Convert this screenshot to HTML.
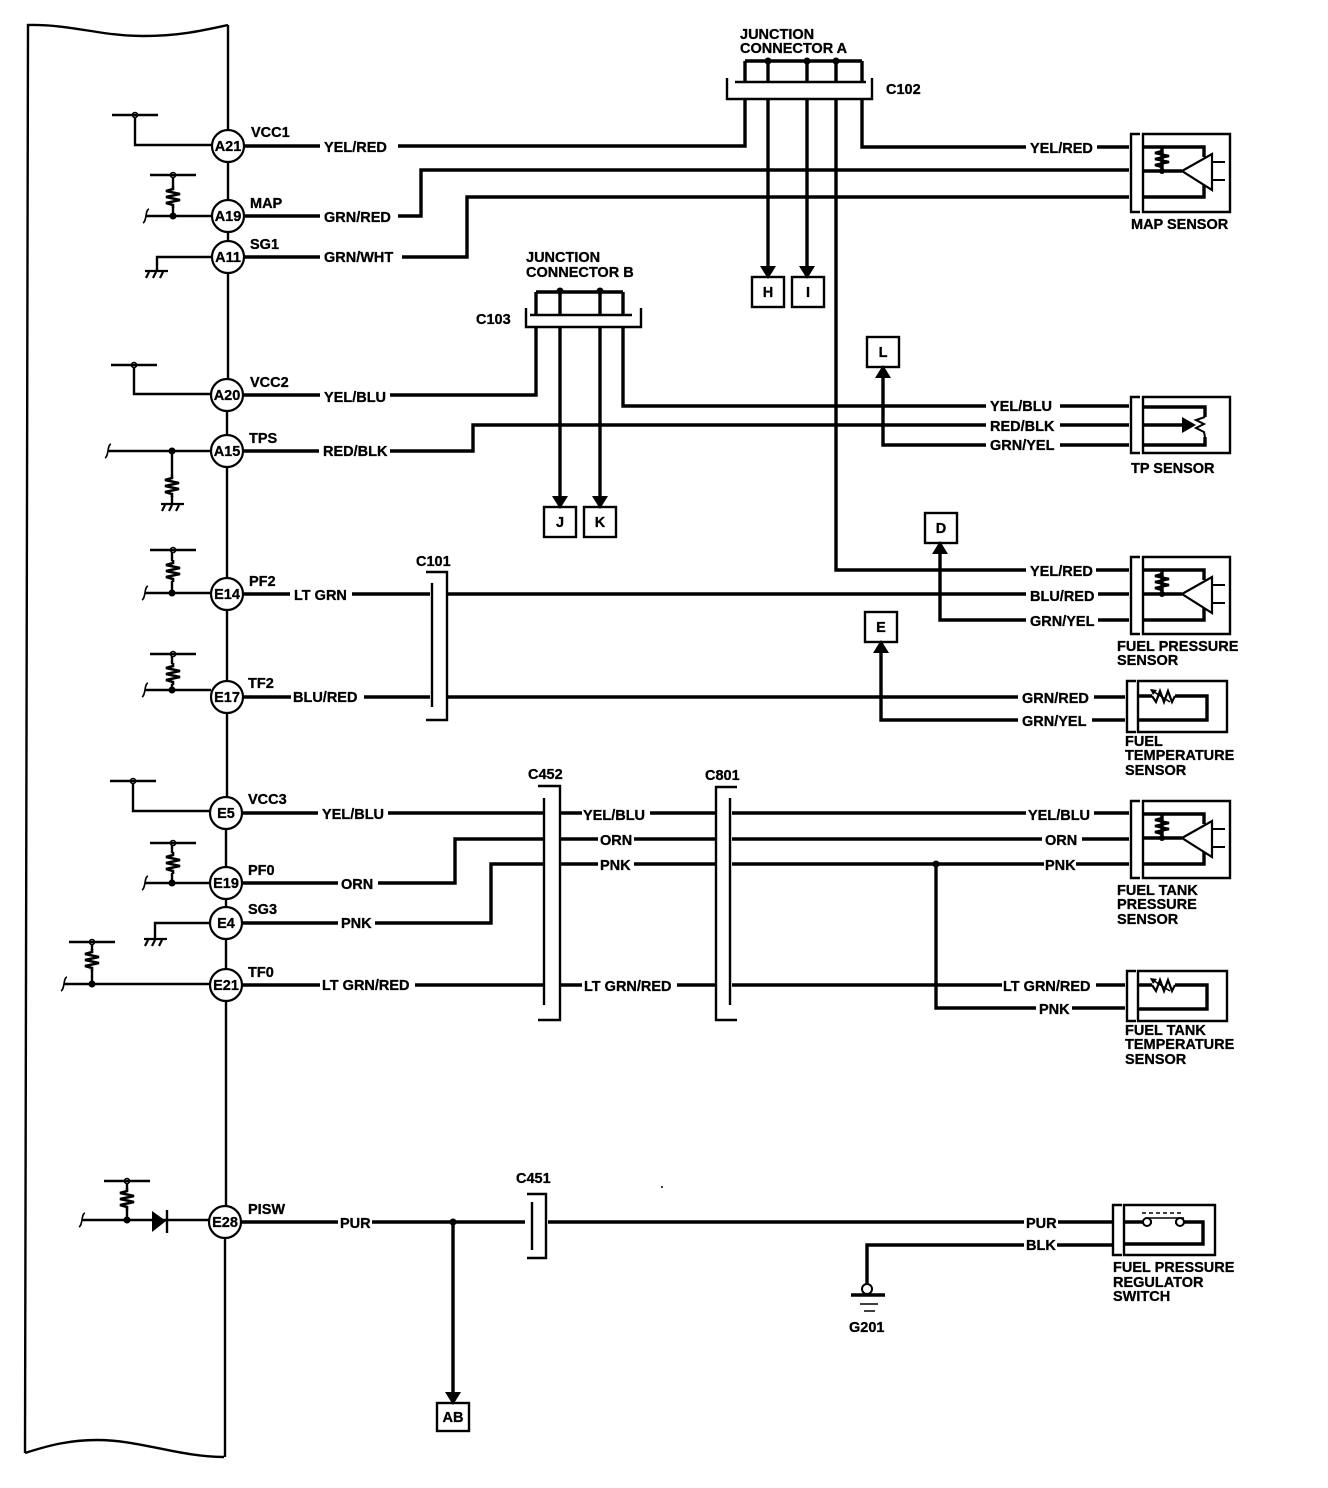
<!DOCTYPE html>
<html><head><meta charset="utf-8"><style>
html,body{margin:0;padding:0;background:#fff}
svg{display:block}
text{font-family:"Liberation Sans",sans-serif;font-weight:bold;font-size:14.5px;fill:#000;stroke:#000;stroke-width:.3}
.w{fill:none;stroke:#000;stroke-width:3.4}
.t{fill:none;stroke:#000;stroke-width:2.4}
.c{fill:#fff;stroke:#000;stroke-width:2.2}
.p{text-anchor:middle}
</style></head><body>
<svg width="1328" height="1488" viewBox="0 0 1328 1488" xmlns="http://www.w3.org/2000/svg">
<defs>
<g id="r"><path d="M0 -11V-8L-7 -6L7 -3L-7 0L7 3L-7 6L0 8V11" fill="none" stroke="#000" stroke-width="2.6"/></g>
<g id="f"><path d="M3 -7C-1 -6 1 5 -3 7" fill="none" stroke="#000" stroke-width="1.6"/></g>
<g id="g"><path d="M-11 0H12M-7 1L-10 7M0 1L-3 7M7 1L4 7" fill="none" stroke="#000" stroke-width="2.2"/></g>
<g id="a"><path d="M-8 -11H8L0 2Z" fill="#000"/></g>
<g id="u"><path d="M-8 11H8L0 -2Z" fill="#000"/></g>
<g id="o"><circle r="2.5" fill="#fff" stroke="#000" stroke-width="1.6"/></g>
<g id="d"><circle r="3.5" fill="#000"/></g>
<g id="pu"><use href="#o"/><path d="M-23 0H23" fill="none" stroke="#000" stroke-width="2.6"/></g>
<g id="amp">
<path d="M0 0H62V10M20 0V24M0 24H40M0 50H62V38" fill="none" stroke="#000" stroke-width="3.4"/>
<path d="M40 24L70 7V43Z" fill="#fff" stroke="#000" stroke-width="2.2"/>
<path d="M70 15H83M70 33H83" fill="none" stroke="#000" stroke-width="2"/>
<use href="#r" x="20" y="12"/><circle cx="20" cy="24" r="3"/>
</g>
<g id="therm">
<path d="M0 0H14M37 0H69V24H0" fill="none" stroke="#000" stroke-width="3.4"/>
<path d="M14 0L18 6L22 -5L26 6L30 -5L34 6L37 0" fill="none" stroke="#000" stroke-width="2.2"/>
<path d="M13 -6L32 6" fill="none" stroke="#000" stroke-width="1.6"/>
<path d="M12 -7L19 -6L15 -1Z" fill="#000"/>
</g>
</defs>

<!-- ECM body -->
<path d="M25 1453L28 25C70 24 100 36 143 36C180 36 205 30 228 25" fill="none" stroke="#000" stroke-width="2.4"/>
<path d="M25 1453C50 1445 70 1440 97 1440C140 1440 180 1457 224 1457" fill="none" stroke="#000" stroke-width="2.4"/>
<path d="M228 25V130M228 162V200M228 232V241M228 273V379M227 411V435M227 467V578M227 610V681M227 713V797M226 829V867M226 899V907M226 939V969M226 1001V1206M225 1238V1457" class="t"/>

<!-- pin circles -->
<g class="c">
<circle cx="228" cy="146" r="16"/><circle cx="228" cy="216" r="16"/><circle cx="228" cy="257" r="16"/>
<circle cx="227" cy="395" r="16"/><circle cx="227" cy="451" r="16"/><circle cx="227" cy="594" r="16"/>
<circle cx="227" cy="697" r="16"/><circle cx="226" cy="813" r="16"/><circle cx="226" cy="883" r="16"/>
<circle cx="226" cy="923" r="16"/><circle cx="226" cy="985" r="16"/><circle cx="225" cy="1222" r="16"/>
</g>
<g class="p">
<text x="228" y="151">A21</text><text x="228" y="221">A19</text><text x="228" y="262">A11</text>
<text x="227" y="400">A20</text><text x="227" y="456">A15</text><text x="227" y="599">E14</text>
<text x="227" y="702">E17</text><text x="226" y="818">E5</text><text x="226" y="888">E19</text>
<text x="226" y="928">E4</text><text x="226" y="990">E21</text><text x="225" y="1227">E28</text>
</g>

<!-- left side circuits -->
<g class="t">
<path d="M135 115V145H212"/><path d="M173 175V216M146 216H212"/><path d="M212 257H157V270"/>
<path d="M134 365V394H211"/><path d="M108 451H211M172 451V504"/>
<path d="M172 550V593M145 593H211"/><path d="M172 654V690M145 690H211"/>
<path d="M133 781V811H210"/><path d="M172 843V883M145 883H210"/><path d="M210 923H155V938"/>
<path d="M92 942V984M64 984H210"/><path d="M127 1181V1220M82 1220H209"/>
</g>
<use href="#pu" x="135" y="115"/><use href="#pu" x="173" y="175"/><use href="#pu" x="134" y="365"/>
<use href="#pu" x="173" y="550"/><use href="#pu" x="173" y="654"/><use href="#pu" x="133" y="781"/>
<use href="#pu" x="173" y="843"/><use href="#pu" x="92" y="942"/><use href="#pu" x="127" y="1181"/>
<g fill="#fff">
<rect x="165" y="187" width="16" height="20"/><rect x="164" y="476" width="16" height="20"/><rect x="165" y="561" width="16" height="20"/>
<rect x="165" y="664" width="16" height="20"/><rect x="165" y="853" width="16" height="20"/><rect x="84" y="950" width="16" height="20"/><rect x="119" y="1189" width="16" height="20"/>
</g>
<use href="#r" x="173" y="197"/><use href="#r" x="172" y="486"/><use href="#r" x="173" y="571"/>
<use href="#r" x="173" y="674"/><use href="#r" x="173" y="863"/><use href="#r" x="92" y="960"/><use href="#r" x="127" y="1199"/>
<use href="#d" x="173" y="216"/><use href="#d" x="172" y="451"/><use href="#d" x="172" y="593"/><use href="#d" x="172" y="690"/>
<use href="#d" x="172" y="883"/><use href="#d" x="92" y="984"/><use href="#d" x="127" y="1220"/>
<use href="#f" x="146" y="216"/><use href="#f" x="108" y="451"/><use href="#f" x="145" y="593"/><use href="#f" x="145" y="690"/>
<use href="#f" x="145" y="883"/><use href="#f" x="64" y="984"/><use href="#f" x="82" y="1220"/>
<use href="#g" x="156" y="271"/><use href="#g" x="172" y="504"/><use href="#g" x="155" y="939"/>
<path d="M152 1211L166 1221L152 1232Z" fill="#000"/><path d="M167 1210V1233" class="t"/>

<!-- pin names -->
<text x="251" y="137">VCC1</text><text x="250" y="208">MAP</text><text x="250" y="249">SG1</text>
<text x="250" y="387">VCC2</text><text x="249" y="443">TPS</text><text x="249" y="586">PF2</text>
<text x="248" y="688">TF2</text><text x="248" y="804">VCC3</text><text x="248" y="875">PF0</text>
<text x="248" y="914">SG3</text><text x="248" y="977">TF0</text><text x="248" y="1214">PISW</text>

<!-- main wires -->
<g class="w">
<path d="M244 146H320M398 146H745V99"/>
<path d="M244 216H320M398 216H421V170H1129"/>
<path d="M244 257H320M402 257H467V197H1129"/>
<path d="M244 395H320M390 395H536V327"/>
<path d="M244 451H319M390 451H473V425H986M1060 425H1129"/>
<path d="M862 99V147H1026M1097 147H1129"/>
<path d="M768 99V266M807 99V266M836 99V570H1026M1096 570H1129"/>
<path d="M745 61V82M768 61V82M807 61V82M836 61V82M862 61V82M745 61H862"/>
<path d="M536 292V315M560 292V315M600 292V315M623 292V315M536 292H623"/>
<path d="M560 327V496M600 327V496M623 327V406H986M1060 406H1129"/>
<path d="M883 376V445H986M1060 445H1129"/>
<path d="M244 594H290M352 594H430M448 594H1026M1098 594H1129"/>
<path d="M940 554V620H1026M1098 620H1129"/>
<path d="M244 697H291M364 697H430M448 697H1018M1094 697H1125"/>
<path d="M881 653V720H1018M1092 720H1125"/>
<path d="M242 813H318M388 813H544M560 813H582M650 813H716M732 813H1026M1094 813H1129"/>
<path d="M242 883H338M378 883H455V839H544M560 839H598M634 839H716M732 839H1042M1082 839H1129"/>
<path d="M242 923H338M375 923H491V864H544M560 864H598M634 864H716M732 864H1044M1076 864H1129"/>
<path d="M242 985H320M415 985H544M560 985H582M677 985H716M732 985H1002M1096 985H1125"/>
<path d="M936 864V1008H1036M1072 1008H1125"/>
<path d="M241 1222H338M372 1222H525M548 1222H1024M1058 1222H1112"/>
<path d="M453 1222V1392"/>
<path d="M867 1284V1245H1024M1057 1245H1112"/>
</g>
<use href="#d" x="768" y="61"/><use href="#d" x="807" y="61"/><use href="#d" x="836" y="61"/>
<use href="#d" x="560" y="291"/><use href="#d" x="600" y="291"/><use href="#d" x="936" y="864"/><use href="#d" x="453" y="1222"/>
<use href="#a" x="768" y="277"/><use href="#a" x="807" y="277"/><use href="#a" x="560" y="507"/><use href="#a" x="600" y="507"/><use href="#a" x="453" y="1403"/>
<use href="#u" x="883" y="367"/><use href="#u" x="940" y="543"/><use href="#u" x="881" y="642"/>

<!-- wire labels -->
<text x="324" y="152">YEL/RED</text><text x="324" y="222">GRN/RED</text><text x="324" y="262">GRN/WHT</text>
<text x="324" y="402">YEL/BLU</text><text x="323" y="456">RED/BLK</text><text x="294" y="600">LT GRN</text>
<text x="293" y="702">BLU/RED</text><text x="322" y="819">YEL/BLU</text><text x="341" y="889">ORN</text>
<text x="341" y="928">PNK</text><text x="322" y="990">LT GRN/RED</text><text x="340" y="1228">PUR</text>
<text x="1030" y="153">YEL/RED</text><text x="990" y="411">YEL/BLU</text><text x="990" y="431">RED/BLK</text><text x="990" y="450">GRN/YEL</text>
<text x="1030" y="576">YEL/RED</text><text x="1030" y="601">BLU/RED</text><text x="1030" y="626">GRN/YEL</text>
<text x="1022" y="703">GRN/RED</text><text x="1022" y="726">GRN/YEL</text>
<text x="583" y="820">YEL/BLU</text><text x="600" y="845">ORN</text><text x="600" y="870">PNK</text><text x="584" y="991">LT GRN/RED</text>
<text x="1028" y="820">YEL/BLU</text><text x="1045" y="845">ORN</text><text x="1045" y="870">PNK</text>
<text x="1003" y="991">LT GRN/RED</text><text x="1039" y="1014">PNK</text>
<text x="1026" y="1228">PUR</text><text x="1026" y="1250">BLK</text>

<!-- junction connectors -->
<path d="M727 78V99H872V78M735 82H866" class="t"/>
<path d="M526 308V327H641V308M530 315H632" class="t"/>
<text x="740" y="39">JUNCTION</text><text x="740" y="53">CONNECTOR A</text><text x="886" y="94">C102</text>
<text x="526" y="262">JUNCTION</text><text x="526" y="277">CONNECTOR B</text><text x="476" y="324">C103</text>

<!-- inline connectors -->
<g class="t">
<path d="M432 583V707M426 572H447V720H426"/>
<path d="M538 786H560V1020H538M544 798V1005"/>
<path d="M737 787H716V1020H737M730 798V1005"/>
<path d="M527 1194H546V1258H527M532 1202V1250"/>
</g>
<text x="416" y="566">C101</text><text x="528" y="779">C452</text><text x="705" y="780">C801</text><text x="516" y="1183">C451</text>

<!-- boxes -->
<g class="t" fill="#fff">
<rect x="752" y="277" width="32" height="30"/><rect x="792" y="277" width="32" height="30"/>
<rect x="867" y="337" width="32" height="30"/><rect x="544" y="507" width="32" height="30"/><rect x="584" y="507" width="32" height="30"/>
<rect x="925" y="513" width="32" height="30"/><rect x="865" y="612" width="32" height="30"/><rect x="437" y="1403" width="32" height="28"/>
</g>
<g class="p">
<text x="768" y="297">H</text><text x="808" y="297">I</text><text x="883" y="357">L</text><text x="560" y="527">J</text><text x="600" y="527">K</text>
<text x="941" y="533">D</text><text x="881" y="632">E</text><text x="453" y="1422">AB</text>
</g>

<!-- MAP sensor -->
<path d="M1140 134H1131V212H1140M1143 134H1230V212H1143Z" class="t"/>
<use href="#amp" x="1142" y="147"/>
<text x="1131" y="229">MAP SENSOR</text>

<!-- TP sensor -->
<path d="M1140 397H1131V453H1140M1143 397H1230V453H1143Z" class="t"/>
<path d="M1143 407H1205V417M1205 437V445H1143" class="w"/>
<path d="M1143 425H1183" class="w"/>
<path d="M1182 417L1196 425L1182 433Z" fill="#000"/>
<path d="M1205 417L1196 420L1204 424L1196 428L1204 432L1205 437" fill="none" stroke="#000" stroke-width="2"/>
<text x="1131" y="473">TP SENSOR</text>

<!-- fuel pressure sensor -->
<path d="M1140 557H1131V634H1140M1143 557H1230V634H1143Z" class="t"/>
<use href="#amp" x="1142" y="570"/>
<text x="1117" y="651">FUEL PRESSURE</text><text x="1117" y="665">SENSOR</text>

<!-- fuel temp sensor -->
<path d="M1136 681H1127V732H1136M1138 681H1227V732H1138Z" class="t"/>
<use href="#therm" x="1138" y="696"/>
<text x="1125" y="746">FUEL</text><text x="1125" y="760">TEMPERATURE</text><text x="1125" y="775">SENSOR</text>

<!-- fuel tank pressure sensor -->
<path d="M1140 801H1131V878H1140M1143 801H1230V878H1143Z" class="t"/>
<use href="#amp" x="1142" y="814"/>
<text x="1117" y="895">FUEL TANK</text><text x="1117" y="909">PRESSURE</text><text x="1117" y="924">SENSOR</text>

<!-- fuel tank temp sensor -->
<path d="M1136 971H1127V1021H1136M1138 971H1227V1021H1138Z" class="t"/>
<use href="#therm" x="1138" y="985"/>
<text x="1125" y="1035">FUEL TANK</text><text x="1125" y="1049">TEMPERATURE</text><text x="1125" y="1064">SENSOR</text>

<!-- regulator switch -->
<path d="M1122 1205H1113V1255H1122M1124 1205H1215V1255H1124Z" class="t"/>
<path d="M1124 1222H1203V1244H1124" class="w"/>
<circle cx="1147" cy="1222" r="4" fill="#fff" stroke="#000" stroke-width="2"/>
<circle cx="1180" cy="1222" r="4" fill="#fff" stroke="#000" stroke-width="2"/>
<path d="M1152 1222H1175" stroke="#fff" stroke-width="5"/>
<path d="M1142 1213H1183" stroke="#000" stroke-width="1.5" stroke-dasharray="4 3"/>
<path d="M1147 1218H1184" stroke="#000" stroke-width="1.5"/>
<text x="1113" y="1272">FUEL PRESSURE</text><text x="1113" y="1287">REGULATOR</text><text x="1113" y="1301">SWITCH</text>

<!-- ground G201 -->
<circle cx="867" cy="1289" r="5" fill="#fff" stroke="#000" stroke-width="2"/>
<path d="M851 1295H885" stroke="#000" stroke-width="3.4"/>
<path d="M860 1304H878M864 1311H875" stroke="#000" stroke-width="1.6"/>
<text x="849" y="1332">G201</text>
<circle cx="662" cy="1187" r="1" fill="#000"/>
</svg>
</body></html>
